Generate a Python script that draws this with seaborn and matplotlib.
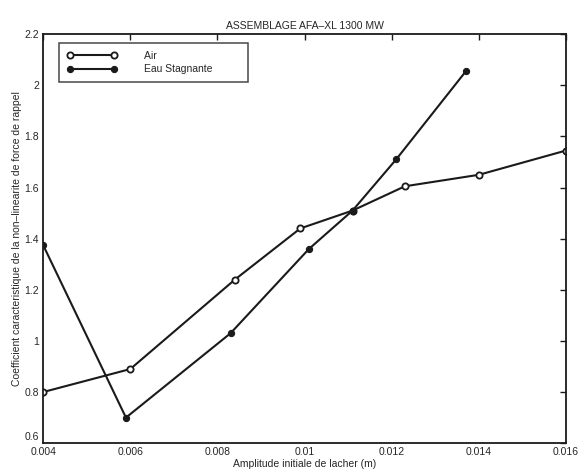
import pandas as pd
import matplotlib
matplotlib.use('Agg')
import matplotlib.pyplot as plt
import matplotlib.transforms as mtransforms
import seaborn as sns

# ----------------------------
# Data
# ----------------------------
air_x = [0.004, 0.0060, 0.0084, 0.0099, 0.0111, 0.0123, 0.0140, 0.0160]
air_y = [0.80, 0.89, 1.24, 1.44, 1.51, 1.605, 1.65, 1.745]

eau_x = [0.004, 0.0059, 0.0083, 0.0101, 0.0111, 0.0121, 0.0137]
eau_y = [1.375, 0.70, 1.03, 1.36, 1.51, 1.71, 2.055]

xticks = [0.004, 0.006, 0.008, 0.01, 0.012, 0.014, 0.016]
xticklabels = ['0.004', '0.006', '0.008', '0.01', '0.012', '0.014', '0.016']
yticks = [0.6, 0.8, 1.0, 1.2, 1.4, 1.6, 1.8, 2.0, 2.2]
yticklabels = ['0.6', '0.8', '1', '1.2', '1.4', '1.6', '1.8', '2', '2.2']

df_air = pd.DataFrame({'x': air_x, 'y': air_y})
df_eau = pd.DataFrame({'x': eau_x, 'y': eau_y})

# ----------------------------
# Plot
# ----------------------------
sns.set_style('white')
plt.rcParams['font.family'] = ['Liberation Sans', 'DejaVu Sans']

fig = plt.figure(figsize=(5.83, 4.75), dpi=100)
ax = fig.add_axes([0.074, 0.067, 0.897, 0.861])

sns.lineplot(data=df_air, x='x', y='y', ax=ax, sort=False, estimator=None,
             color='#1a1a1a', linewidth=1.5, marker='o', markersize=4.5,
             markerfacecolor='white', markeredgecolor='#1a1a1a',
             markeredgewidth=1.3, label='Air')
sns.lineplot(data=df_eau, x='x', y='y', ax=ax, sort=False, estimator=None,
             color='#1a1a1a', linewidth=1.5, marker='o', markersize=4.5,
             markerfacecolor='#1a1a1a', markeredgecolor='#1a1a1a',
             label='Eau Stagnante')

ax.set_xlim(0.004, 0.016)
ax.set_ylim(0.6, 2.2)
ax.set_xticks(xticks)
ax.set_xticklabels(xticklabels)
ax.set_yticks(yticks)
ax.set_yticklabels(yticklabels)
ax.tick_params(direction='in', top=True, right=True, length=4,
               labelsize=7.5, color='#1a1a1a', width=1, pad=3)
for s in ax.spines.values():
    s.set_color('#1a1a1a')
    s.set_linewidth(1.3)

# lift the bottom y label a little so it sits above "0.004", as in the scan
lbl = ax.get_yticklabels()[0]
lbl.set_transform(lbl.get_transform() +
                  mtransforms.ScaledTranslation(0, 5 / 72, fig.dpi_scale_trans))

ax.set_title('ASSEMBLAGE AFA\u2013XL 1300 MW', fontsize=7.5, pad=4)
ax.set_xlabel('Amplitude initiale de lacher (m)', fontsize=7.5, labelpad=1)
ax.set_ylabel('Coefficient caracteristique de la non\u2013linearite de force de rappel',
              fontsize=7.5, labelpad=2)

leg = ax.legend(loc='upper left', bbox_to_anchor=(0.025, 0.985), fontsize=7.5,
                numpoints=2, handlelength=4.8, fancybox=False, frameon=True,
                borderpad=0.7, labelspacing=0.35, handletextpad=2.6,
                borderaxespad=0.3)
leg.get_frame().set_edgecolor('#1a1a1a')
leg.get_frame().set_linewidth(1.1)
# the box in the reference runs a bit wider than its text
for t in leg.get_texts():
    t.set_text(t.get_text() + '          ')

fig.savefig('out.png', dpi=100)
